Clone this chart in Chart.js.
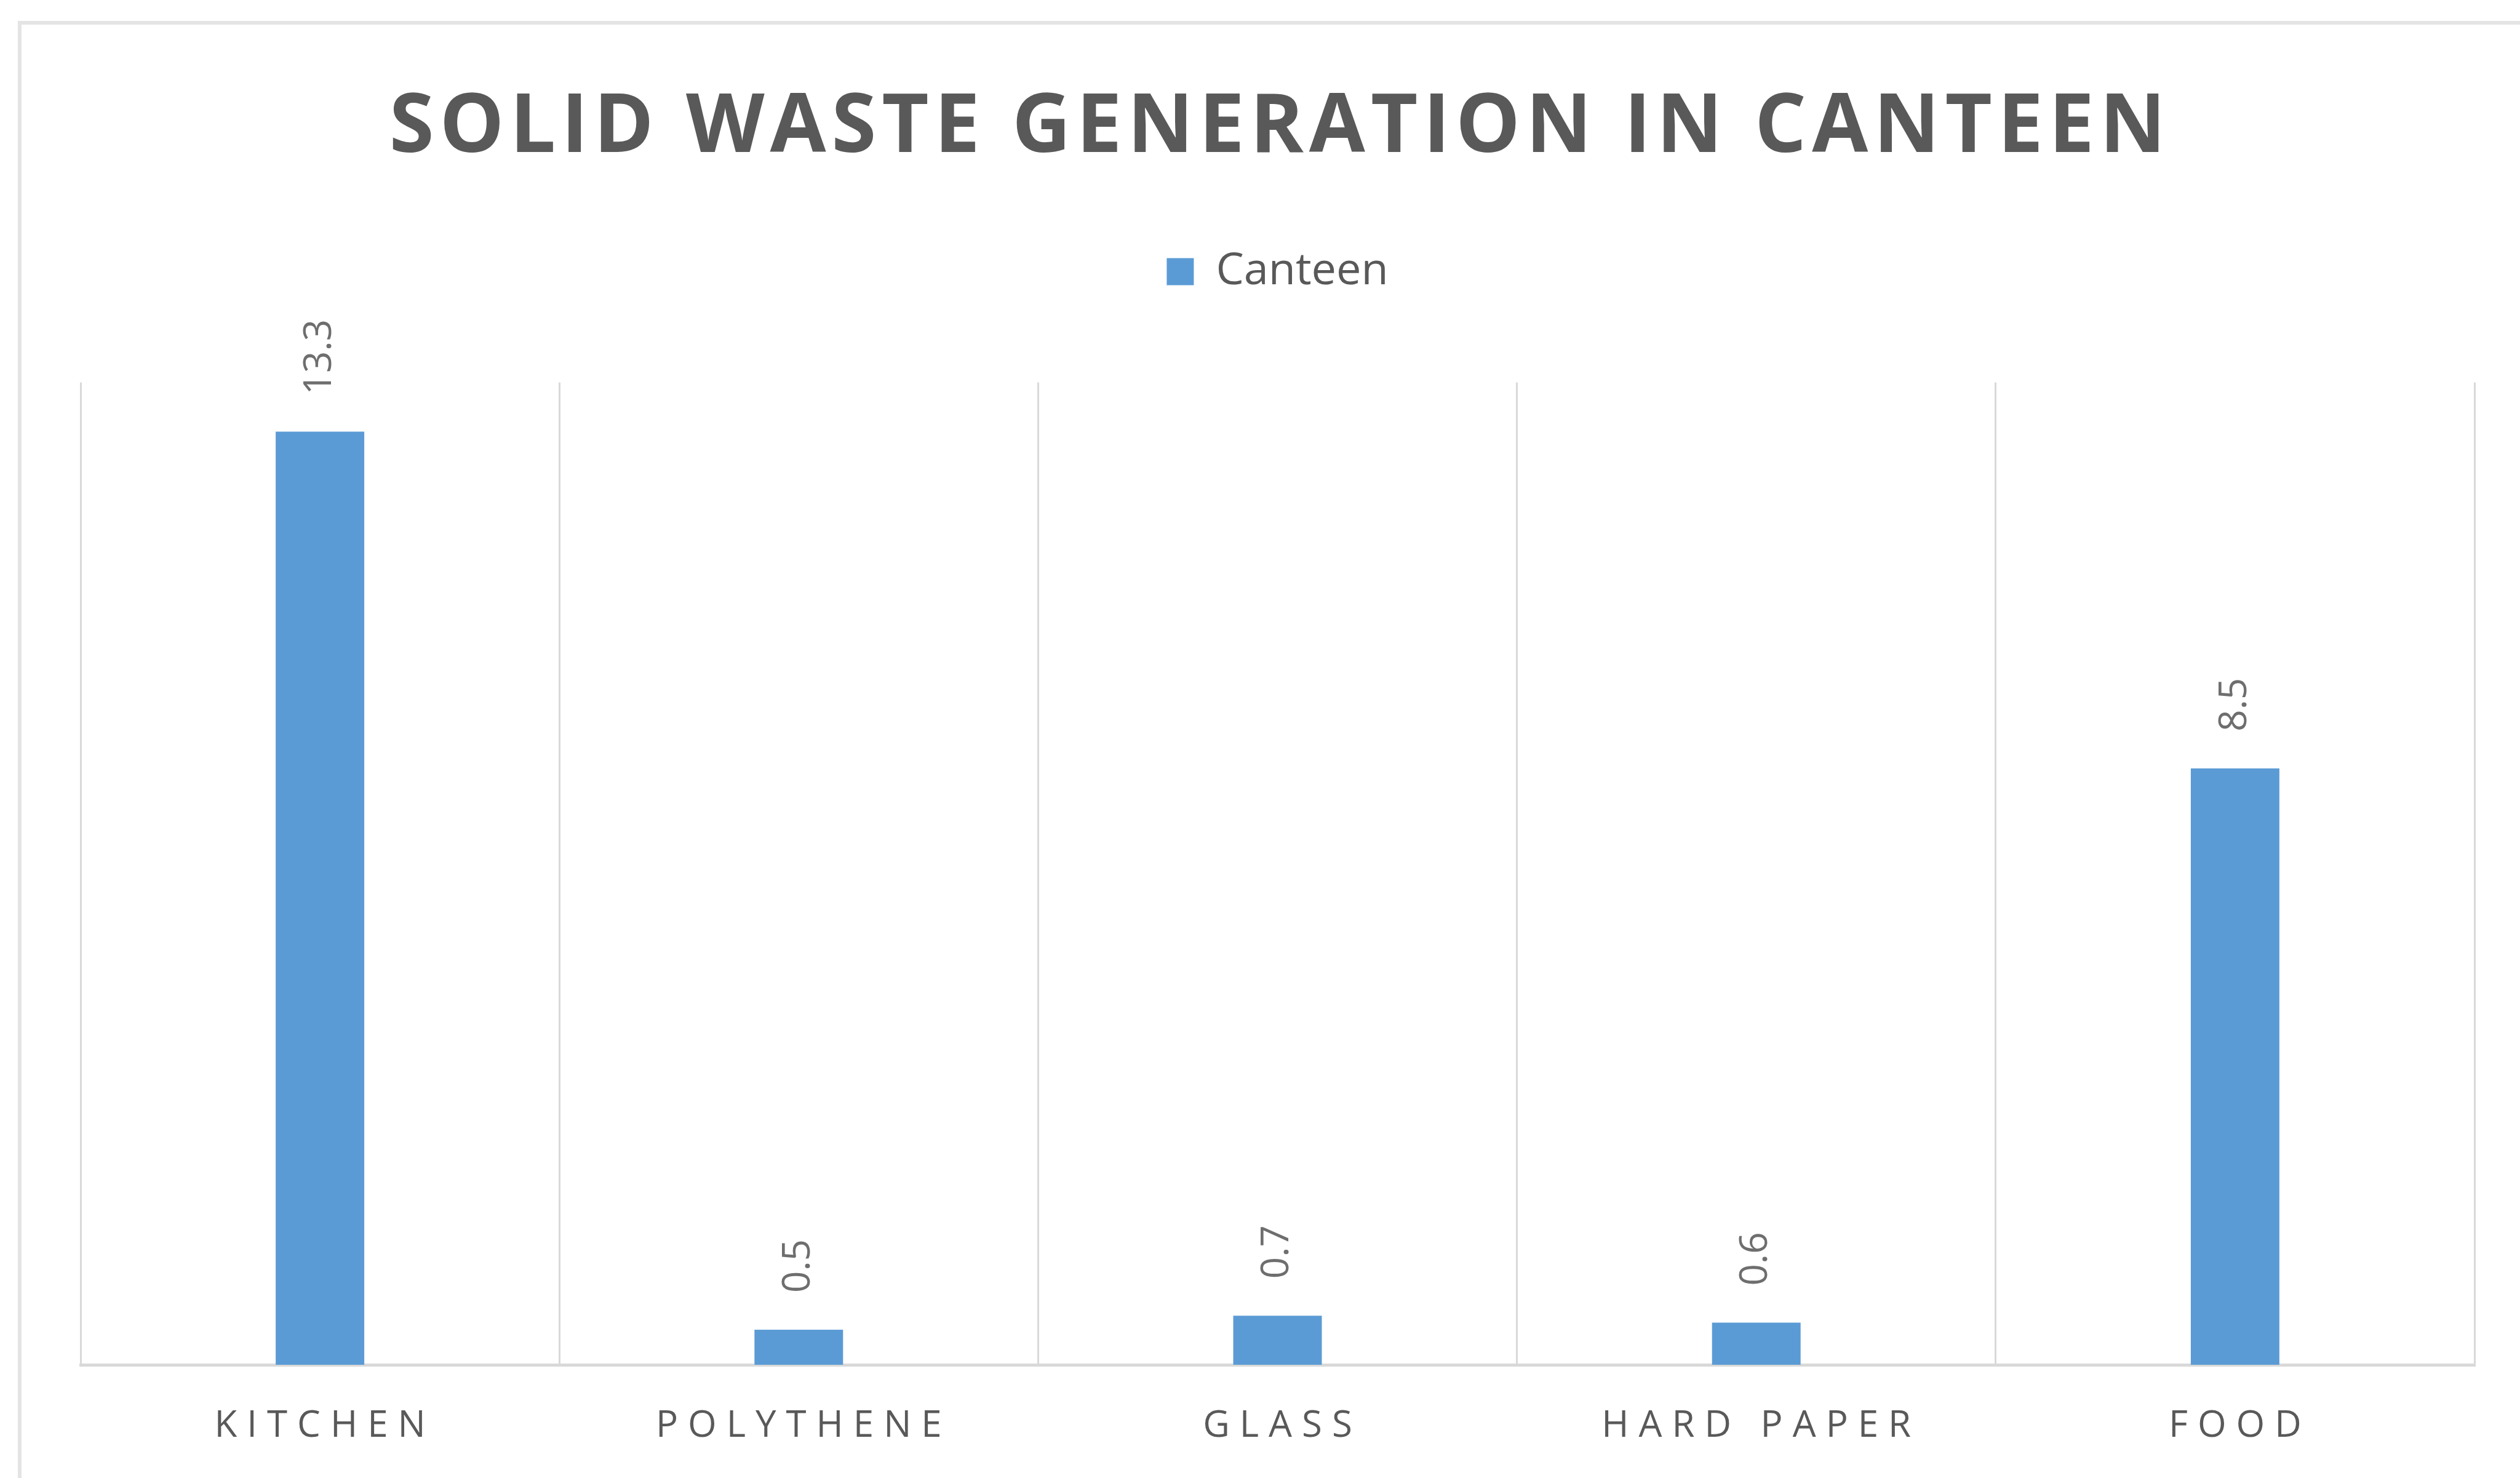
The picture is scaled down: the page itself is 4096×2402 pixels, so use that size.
<!DOCTYPE html>
<html>
<head>
<meta charset="utf-8">
<title>Solid waste generation in canteen</title>
<script src="https://cdn.jsdelivr.net/npm/chart.js@4.4.1/dist/chart.umd.min.js"></script>
<style>
  html, body { margin: 0; padding: 0; background: #ffffff; }
  #wasteChart { display: block; }
</style>
</head>
<body>
<canvas id="wasteChart" width="4096" height="2402"></canvas>
<script>
const categories = ["KITCHEN", "POLYTHENE", "GLASS", "HARD PAPER", "FOOD"];
const canteenWaste = [13.3, 0.5, 0.7, 0.6, 8.5];
const seriesName = "Canteen";
const chartTitle = "SOLID WASTE GENERATION IN CANTEEN";

const TEXT_GREY = "#595959";
const LINE_GREY = "#d9d9d9";
const BAR_BLUE = "#5b9bd5";

Chart.defaults.font.family = "'Open Sans', sans-serif";

// wrap a draw method so its text comes out letter-spaced
function withSpacing(target, method, spacing) {
    const original = target[method];
    target[method] = function (...args) {
        const ctx = this.ctx;
        ctx.save();
        ctx.letterSpacing = spacing + "px";
        ctx.translate(spacing / 2, 0);
        original.apply(this, args);
        ctx.restore();
    };
}

const spacedText = {
    id: "spacedText",
    afterUpdate(chart) {
        if (chart.titleBlock && !chart.titleBlock._spaced) {
            withSpacing(chart.titleBlock, "draw", 9);
            chart.titleBlock._spaced = true;
        }
        const xScale = chart.scales.x;
        if (xScale && !xScale._spaced) {
            withSpacing(xScale, "drawLabels", 16);
            xScale._spaced = true;
        }
    }
};

// thin grey frame along the top and left edge
const frame = {
    id: "frame",
    beforeDraw(chart) {
        const ctx = chart.ctx;
        ctx.save();
        ctx.fillStyle = "#ffffff";
        ctx.fillRect(0, 0, chart.width, chart.height);
        ctx.strokeStyle = "#e4e4e4";
        ctx.lineWidth = 6;
        ctx.beginPath();
        ctx.moveTo(32, chart.height);
        ctx.lineTo(32, 37);
        ctx.lineTo(chart.width, 37);
        ctx.stroke();
        ctx.restore();
    }
};

// rotated value labels sitting above each bar
const valueLabels = {
    id: "valueLabels",
    afterDatasetsDraw(chart) {
        const ctx = chart.ctx;
        const meta = chart.getDatasetMeta(0);
        const values = chart.data.datasets[0].data;
        ctx.save();
        ctx.font = "62px 'Open Sans'";
        ctx.fillStyle = "#6e6e6e";
        ctx.textAlign = "left";
        ctx.textBaseline = "middle";
        meta.data.forEach((bar, i) => {
            ctx.save();
            ctx.translate(bar.x, bar.y - 60);
            ctx.rotate(-Math.PI / 2);
            ctx.fillText(values[i].toFixed(1), 0, 0);
            ctx.restore();
        });
        ctx.restore();
    }
};

const ctx = document.getElementById("wasteChart").getContext("2d");

new Chart(ctx, {
    type: "bar",
    data: {
        labels: categories,
        datasets: [{
            label: seriesName,
            data: canteenWaste,
            backgroundColor: BAR_BLUE,
            borderWidth: 0,
            barPercentage: 0.185,
            categoryPercentage: 1.0
        }]
    },
    options: {
        responsive: false,
        animation: false,
        events: [],
        layout: {
            padding: { top: 0, left: 131, right: 74, bottom: -16 }
        },
        plugins: {
            title: {
                display: true,
                text: chartTitle,
                color: TEXT_GREY,
                font: { size: 132, weight: "bold", lineHeight: 0.8 },
                padding: { top: 157, bottom: 0 }
            },
            // empty block under the legend, keeps the plot clear of it
            subtitle: {
                display: true,
                text: "",
                weight: 500,
                font: { size: 10, lineHeight: 1 },
                padding: { top: 124, bottom: 0 }
            },
            legend: {
                display: true,
                position: "top",
                labels: {
                    color: TEXT_GREY,
                    font: { size: 72 },
                    boxWidth: 44,
                    boxHeight: 44,
                    padding: 143
                }
            },
            tooltip: { enabled: false }
        },
        scales: {
            x: {
                grid: {
                    offset: true,
                    color: LINE_GREY,
                    lineWidth: 3,
                    drawTicks: false
                },
                border: { color: LINE_GREY, width: 5 },
                ticks: {
                    color: TEXT_GREY,
                    font: { size: 60, lineHeight: 1 },
                    padding: 70,
                    maxRotation: 0,
                    autoSkip: false
                }
            },
            y: {
                display: false,
                min: 0,
                max: 14
            }
        }
    },
    plugins: [frame, spacedText, valueLabels]
});
</script>
</body>
</html>
